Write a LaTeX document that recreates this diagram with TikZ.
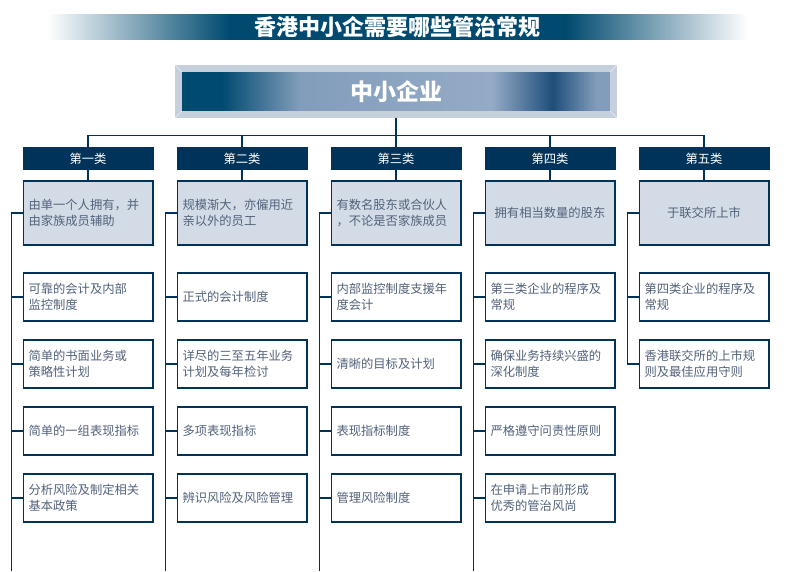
\documentclass[tikz,border=0pt]{standalone}
\usepackage{fontspec}
\setmainfont{Noto Sans CJK SC}
\usetikzlibrary{trees,positioning}

\definecolor{navy}{HTML}{00335A}
\definecolor{titlenavy}{HTML}{004A70}
\definecolor{paleblue}{HTML}{D3DBE6}
\definecolor{inktext}{HTML}{52627B}
\definecolor{bevel}{HTML}{C6D0DD}
\definecolor{steel}{HTML}{829DBB}
\definecolor{palesteel}{HTML}{94ABC6}
\definecolor{deepsteel}{HTML}{1F4E7A}

\pgfdeclarehorizontalshading{bannershade}{100bp}{color(0bp)=(white); color(25bp)=(white); color(38bp)=(titlenavy); color(62bp)=(titlenavy); color(75bp)=(white); color(100bp)=(white)}
\pgfdeclarehorizontalshading{smeshade}{100bp}{color(0bp)=(titlenavy); color(25bp)=(titlenavy); color(30bp)=(titlenavy); color(39bp)=(steel); color(61bp)=(palesteel); color(68bp)=(deepsteel); color(73bp)=(steel); color(100bp)=(steel)}

\begin{document}
\begin{tikzpicture}[x=1pt, y=1pt,
  every node/.style = {align=center, text=inktext,
    font=\fontsize{12.3}{16}\selectfont},
  banner/.style = {shading=bannershade, minimum width=701pt,
    minimum height=25.5pt, inner sep=0pt, text=white,
    font=\fontsize{22}{24}\selectfont\bfseries},
  rootbox/.style = {shading=smeshade, draw=bevel, line width=6.5pt,
    minimum width=435pt, minimum height=46pt, text=white,
    font=\fontsize{23}{25}\selectfont\bfseries},
  head/.style = {fill=navy, text=white, minimum width=131pt,
    minimum height=23pt, inner sep=0pt, outer sep=0pt},
  descbox/.style = {draw=navy, line width=1.6pt, fill=paleblue,
    minimum width=129.4pt, minimum height=64.4pt, inner sep=5pt,
    text width=119pt, align=left},
  detail/.style = {draw=navy, line width=1.6pt, fill=white,
    minimum width=129.4pt, minimum height=48.4pt, inner sep=5pt,
    text width=119pt, align=left},
  link/.style = {draw=navy, line width=1.4pt},
  edge from parent/.style = {link},
  level 1/.style = {sibling distance=154pt, level distance=67pt,
    edge from parent path={(\tikzparentnode.south)
      -- ([yshift=-18pt]\tikzparentnode.south) -| (\tikzchildnode.north)}},
  level 2/.style = {level distance=54.5pt,
    edge from parent path={(\tikzparentnode.south) -- (\tikzchildnode.north)}}]
  \useasboundingbox (0,0) rectangle (805,-571);
  \coordinate (floor) at (0,-571);

  \node (title) at (397.5,-27) [banner] {香港中小企需要哪些管治常规};

  \node (sme) at (396,-91.5) [rootbox] {中小企业}
    child { node (h1) [head] {第一类}
      child { node (c1) [descbox] {由单一个人拥有，并\\由家族成员辅助} } }
    child { node (h2) [head] {第二类}
      child { node (c2) [descbox] {规模渐大，亦僱用近\\亲以外的员工} } }
    child { node (h3) [head] {第三类}
      child { node (c3) [descbox] {有数名股东或合伙人\\，不论是否家族成员} } }
    child { node (h4) [head] {第四类}
      child { node (c4) [descbox, align=center] {拥有相当数量的股东} } }
    child { node (h5) [head] {第五类}
      child { node (c5) [descbox, align=center] {于联交所上市} } };
  \foreach \a/\dx/\dy in {north west/1/-1, north east/-1/-1,
                          south west/1/1, south east/-1/1}
    \draw[white!70!bevel, line width=0.6pt] (sme.\a) -- ++(6.5*\dx,6.5*\dy);

  % first class
  \node (d11) [detail, below=26pt of c1] {可靠的会计及内部\\监控制度};
  \node (d12) [detail, below=17pt of d11] {简单的书面业务或\\策略性计划};
  \node (d13) [detail, below=17pt of d12] {简单的一组表现指标};
  \node (d14) [detail, below=17pt of d13] {分析风险及制定相关\\基本政策};
  % second class
  \node (d21) [detail, below=26pt of c2] {正式的会计制度};
  \node (d22) [detail, below=17pt of d21] {详尽的三至五年业务\\计划及每年检讨};
  \node (d23) [detail, below=17pt of d22] {多项表现指标};
  \node (d24) [detail, below=17pt of d23] {辨识风险及风险管理};
  % third class
  \node (d31) [detail, below=26pt of c3] {内部监控制度支援年\\度会计};
  \node (d32) [detail, below=17pt of d31] {清晰的目标及计划};
  \node (d33) [detail, below=17pt of d32] {表现指标制度};
  \node (d34) [detail, below=17pt of d33] {管理风险制度};
  % fourth class
  \node (d41) [detail, below=26pt of c4] {第三类企业的程序及\\常规};
  \node (d42) [detail, below=17pt of d41] {确保业务持续兴盛的\\深化制度};
  \node (d43) [detail, below=17pt of d42] {严格遵守问责性原则};
  \node (d44) [detail, below=17pt of d43] {在申请上市前形成\\优秀的管治风尚};
  % fifth class
  \node (d51) [detail, below=26pt of c5] {第四类企业的程序及\\常规};
  \node (d52) [detail, below=17pt of d51] {香港联交所的上市规\\则及最佳应用守则};

  % spines
  \foreach \c in {1,...,4} {
    \coordinate (s\c) at ([xshift=-11pt]c\c.west);
    \draw[link] (c\c.west) -- (s\c) -- (s\c |- floor);
    \foreach \r in {1,...,4}
      \draw[link] (d\c\r.west) -- (d\c\r.west -| s\c);
  }
  \coordinate (s5) at ([xshift=-11pt]c5.west);
  \draw[link] (c5.west) -- (s5) -- (d52.west -| s5) -- (d52.west);
  \draw[link] (d51.west) -- (d51.west -| s5);
\end{tikzpicture}
\end{document}
